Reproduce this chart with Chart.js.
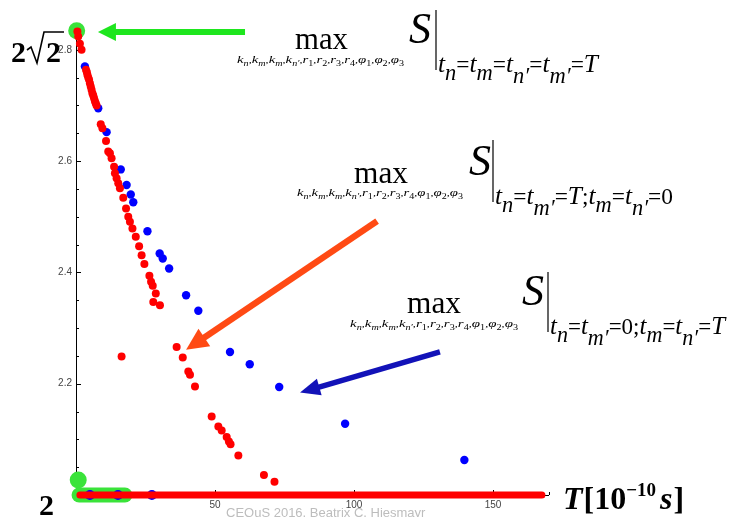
<!DOCTYPE html>
<html>
<head>
<meta charset="utf-8">
<script src="https://cdn.jsdelivr.net/npm/chart.js@4.4.1/dist/chart.umd.min.js"></script>
<style>
  body { margin: 0; background: #fff; }
  canvas { display: block; }
</style>
</head>
<body>
<canvas id="chart" width="738" height="517"></canvas>
<script>
// values, T in units of 1e-10 s
const redX = [0.5, 0.8, 1.4, 2.0, 3.6, 3.9, 4.1, 4.4, 4.7, 5.0, 5.3, 5.6, 5.9, 6.2, 6.5, 6.8, 7.1, 7.4,
  8.9, 9.5, 10.8, 11.6, 12.2, 12.8, 13.7, 14.0, 14.6, 15.2, 15.8, 16.4, 17.0, 18.0, 18.8, 19.4, 20.3,
  21.5, 22.7, 23.6, 24.6, 26.4, 27.0, 27.6, 28.7, 27.8, 30.2, 36.2, 38.4, 40.4, 41.0, 42.8, 48.8,
  51.2, 52.4, 54.2, 55.0, 55.6, 58.4, 67.6, 71.4];
const redY = [2.833, 2.824, 2.811, 2.800, 2.764, 2.760, 2.755, 2.750, 2.746, 2.740, 2.734, 2.728, 2.722, 2.718, 2.713, 2.708, 2.704, 2.700,
  2.666, 2.659, 2.636, 2.617, 2.614, 2.605, 2.590, 2.578, 2.569, 2.560, 2.551, 2.249, 2.534, 2.515, 2.500, 2.491, 2.479,
  2.464, 2.447, 2.431, 2.415, 2.394, 2.383, 2.376, 2.362, 2.347, 2.341, 2.266, 2.247, 2.222, 2.216, 2.195, 2.141,
  2.123, 2.116, 2.104, 2.096, 2.091, 2.071, 2.036, 2.024];

const blueX = [3.2, 8.0, 11.0, 16.1, 18.2, 19.7, 20.6, 25.7, 30.1, 31.2, 33.5, 39.6, 44.0, 55.4, 62.5, 73.1, 96.8, 139.7];
const blueY = [2.770, 2.695, 2.652, 2.585, 2.557, 2.540, 2.526, 2.474, 2.434, 2.425, 2.407, 2.359, 2.331, 2.257, 2.235, 2.194, 2.128, 2.063];

// the run of points lying on S = 2
const redFloorX = [1.4, 167.6];
const blueFloorX = [5.0, 15.1, 27.3];
const floorY = 2;

const xTickStep = 10;
const xLabelStep = 50;
const yTickStep = 0.05;
const yLabelStep = 0.2;

// annotation anchors in data units
const greenTop = { x: 0.25, y: 2.834 };
const greenBottom = { x: 0.8, y: 2.027 };
const greenBar = [1.1, 17.6];
const greenArrow = { from: [60.8, 2.832], to: [7.9, 2.832] };
const orangeArrow = { from: [108.3, 2.492], to: [39.6, 2.261] };
const blueArrow = { from: [130.9, 2.257], to: [80.6, 2.184] };

const pts = (xs, ys) => xs.map((x, i) => ({ x: x, y: Array.isArray(ys) ? ys[i] : ys }));

const SERIF = '"Liberation Serif", "DejaVu Serif", serif';

function arrow(ctx, x1, y1, x2, y2, color, width, headLen, headW) {
  const a = Math.atan2(y2 - y1, x2 - x1);
  const bx = x2 - Math.cos(a) * headLen, by = y2 - Math.sin(a) * headLen;
  ctx.save();
  ctx.strokeStyle = color;
  ctx.fillStyle = color;
  ctx.lineWidth = width;
  ctx.beginPath();
  ctx.moveTo(x1, y1);
  ctx.lineTo(bx + Math.cos(a) * 2, by + Math.sin(a) * 2);
  ctx.stroke();
  ctx.beginPath();
  ctx.moveTo(x2, y2);
  ctx.lineTo(bx + Math.sin(a) * headW / 2, by - Math.cos(a) * headW / 2);
  ctx.lineTo(bx - Math.sin(a) * headW / 2, by + Math.cos(a) * headW / 2);
  ctx.closePath();
  ctx.fill();
  ctx.restore();
}

// runs: [text, size, italic, dy]
function runs(ctx, x, y, list, targetW) {
  const fontOf = r => (r[2] ? 'italic ' : '') + r[1] + 'px ' + SERIF;
  let total = 0;
  list.forEach(r => { ctx.font = fontOf(r); total += ctx.measureText(r[0]).width; });
  const k = targetW ? targetW / total : 1;
  ctx.save();
  ctx.translate(x, y);
  ctx.scale(k, 1);
  let cx = 0;
  list.forEach(r => {
    ctx.font = fontOf(r);
    ctx.fillText(r[0], cx, r[3] || 0);
    cx += ctx.measureText(r[0]).width;
  });
  ctx.restore();
}

function underMax() {
  const L = [];
  const v = (a, b, last) => {
    L.push([a, 11, true, 0]);
    L.push([b, 7.5, !/[0-9]/.test(b), 3]);
    if (!last) L.push([',', 9, false, 0]);
  };
  v('k', 'n'); v('k', 'm'); v('k', 'm'); v('k', 'n′');
  v('r', '1'); v('r', '2'); v('r', '3'); v('r', '4');
  v('φ', '1'); v('φ', '2'); v('φ', '3', true);
  return L;
}

function tExpr(parts) {
  // parts: sequence of tokens like ['n'] (t with subscript) or '=' or 'T'
  const L = [];
  parts.forEach(p => {
    if (Array.isArray(p)) {
      L.push(['t', 26, true, 0]);
      L.push([p[0], 23, true, p[0].length > 1 ? 11 : 8]);
    } else if (p === 'T') {
      L.push(['T', 26, true, 0]);
    } else {
      L.push([p, 24, false, 0]);
    }
  });
  return L;
}

function formula(ctx, o) {
  ctx.fillStyle = '#000';
  runs(ctx, o.maxX, o.maxY, [['max', 32, false, 0]], o.maxW);
  runs(ctx, o.subX, o.subY, underMax(), o.subW);
  runs(ctx, o.sX, o.sY, [['S', 44, true, 0]]);
  ctx.save();
  ctx.strokeStyle = '#000';
  ctx.lineWidth = 1.2;
  ctx.beginPath();
  ctx.moveTo(o.barX, o.barTop);
  ctx.lineTo(o.barX, o.barBottom);
  ctx.stroke();
  ctx.restore();
  runs(ctx, o.barX + 2, o.tY, tExpr(o.t), o.tW);
}

const decorations = {
  id: 'decorations',
  beforeDatasetsDraw(chart) {
    const { ctx, scales: { x, y } } = chart;
    ctx.save();
    // inward tick marks
    ctx.strokeStyle = '#000';
    ctx.lineWidth = 1;
    y.ticks.forEach(t => {
      const py = Math.round(y.getPixelForValue(t.value)) + 0.5;
      const major = Math.abs(t.value / yLabelStep - Math.round(t.value / yLabelStep)) < 1e-6;
      ctx.beginPath();
      ctx.moveTo(x.left, py);
      ctx.lineTo(x.left + (major ? 5 : 3), py);
      ctx.stroke();
    });
    x.ticks.forEach(t => {
      const px = Math.round(x.getPixelForValue(t.value)) + 0.5;
      ctx.beginPath();
      ctx.moveTo(px, y.bottom);
      ctx.lineTo(px, y.bottom - (t.value % xLabelStep === 0 ? 5 : 3));
      ctx.stroke();
    });
    // green highlights
    ctx.fillStyle = '#3ae33a';
    ctx.strokeStyle = '#3ae33a';
    [greenTop, greenBottom].forEach(p => {
      ctx.beginPath();
      ctx.arc(x.getPixelForValue(p.x), y.getPixelForValue(p.y), 8.5, 0, Math.PI * 2);
      ctx.fill();
    });
    ctx.lineWidth = 15;
    ctx.lineCap = 'round';
    ctx.beginPath();
    ctx.moveTo(x.getPixelForValue(greenBar[0]), y.getPixelForValue(floorY));
    ctx.lineTo(x.getPixelForValue(greenBar[1]), y.getPixelForValue(floorY));
    ctx.stroke();
    ctx.restore();
  },
  afterDraw(chart) {
    const { ctx, scales: { x, y } } = chart;
    const P = a => [x.getPixelForValue(a[0]), y.getPixelForValue(a[1])];
    const g1 = P(greenArrow.from), g2 = P(greenArrow.to);
    arrow(ctx, g1[0], g1[1], g2[0], g2[1], '#1ee61e', 6, 18, 18);
    const o1 = P(orangeArrow.from), o2 = P(orangeArrow.to);
    arrow(ctx, o1[0], o1[1], o2[0], o2[1], '#ff4a14', 6.5, 22, 21);
    const b1 = P(blueArrow.from), b2 = P(blueArrow.to);
    arrow(ctx, b1[0], b1[1], b2[0], b2[1], '#1212b8', 5.5, 20, 17);

    ctx.save();
    ctx.fillStyle = '#000';
    ctx.textBaseline = 'alphabetic';

    // 2√2 at the top of the y axis
    ctx.font = 'bold 30px ' + SERIF;
    ctx.fillText('2', 11, 62);
    ctx.fillText('2', 46, 62);
    ctx.lineWidth = 1.6;
    ctx.strokeStyle = '#000';
    ctx.beginPath();
    ctx.moveTo(27, 50);
    ctx.lineTo(31, 47);
    ctx.lineTo(37, 63);
    ctx.lineTo(44, 32);
    ctx.lineTo(64, 32);
    ctx.stroke();
    // 2 at the bottom
    ctx.fillText('2', 39, 515);

    // axis title
    ctx.font = 'bold italic 32px ' + SERIF;
    ctx.fillText('T', 563, 509);
    let cx = 563 + ctx.measureText('T').width + 1;
    ctx.font = 'bold 32px ' + SERIF;
    ctx.fillText('[10', cx, 509);
    cx += ctx.measureText('[10').width;
    ctx.font = 'bold 19px ' + SERIF;
    ctx.fillText('−10', cx, 496);
    cx += ctx.measureText('−10').width + 4;
    ctx.font = 'bold italic 32px ' + SERIF;
    ctx.fillText('s', cx, 509);
    cx += ctx.measureText('s').width + 1;
    ctx.font = 'bold 32px ' + SERIF;
    ctx.fillText(']', cx, 509);

    // faint footer
    ctx.font = '13px "Liberation Sans", sans-serif';
    ctx.fillStyle = '#bdbdbd';
    ctx.fillText('CEQuS 2016, Beatrix C. Hiesmayr', 226, 517);

    formula(ctx, { maxX: 295, maxY: 49, maxW: 53, subX: 237, subY: 63, subW: 167,
      sX: 409, sY: 43, barX: 436, barTop: 10, barBottom: 70, tY: 72, tW: 160,
      t: [['n'], '=', ['m'], '=', ['n′'], '=', ['m′'], '=', 'T'] });
    formula(ctx, { maxX: 354, maxY: 183, maxW: 54, subX: 297, subY: 196, subW: 166,
      sX: 469, sY: 175, barX: 493, barTop: 140, barBottom: 202, tY: 204, tW: 178,
      t: [['n'], '=', ['m′'], '=', 'T', ';', ['m'], '=', ['n′'], '=', '0'] });
    formula(ctx, { maxX: 407, maxY: 313, maxW: 54, subX: 350, subY: 327, subW: 168,
      sX: 522, sY: 305, barX: 548, barTop: 272, barBottom: 332, tY: 334, tW: 175,
      t: [['n'], '=', ['m′'], '=', '0', ';', ['m'], '=', ['n′'], '=', 'T'] });
    ctx.restore();
  }
};

new Chart(document.getElementById('chart'), {
  type: 'scatter',
  data: {
    datasets: [
      {
        label: 'S = 2 (red)',
        data: pts(redFloorX, floorY),
        showLine: true,
        borderColor: '#ff0000',
        borderWidth: 7,
        borderCapStyle: 'round',
        pointRadius: 0,
        clip: false
      },
      {
        label: 'tn=tm\'=T, tm=tn\'=0',
        data: pts(redX, redY),
        backgroundColor: '#ff0000',
        borderWidth: 0,
        pointRadius: 4,
        clip: false
      },
      {
        label: 'S = 2 (blue)',
        data: pts(blueFloorX, floorY),
        backgroundColor: '#0000ff',
        borderWidth: 0,
        pointRadius: 5,
        clip: false
      },
      {
        label: 'tn=tm\'=0, tm=tn\'=T',
        data: pts(blueX, blueY),
        backgroundColor: '#0000ff',
        borderWidth: 0,
        pointRadius: 4.2,
        clip: false
      }
    ]
  },
  options: {
    responsive: false,
    animation: false,
    layout: { padding: { top: 27.5, right: 189.4, left: 0, bottom: 0 } },
    plugins: { legend: { display: false }, tooltip: { enabled: false } },
    scales: {
      x: {
        type: 'linear',
        min: 0,
        max: 170,
        afterFit: s => { s.height = 22; },
        grid: { display: false, drawTicks: false },
        border: { display: true, color: '#000', width: 1 },
        ticks: {
          stepSize: xTickStep,
          autoSkip: false,
          maxRotation: 0,
          padding: 4,
          color: '#444',
          font: { size: 10, family: '"Liberation Sans", sans-serif' },
          callback: v => (v > 0 && v % xLabelStep === 0 ? v : '')
        }
      },
      y: {
        min: 2,
        max: 2.84,
        afterFit: s => { s.width = 76; },
        grid: { display: false, drawTicks: false },
        border: { display: true, color: '#000', width: 1 },
        ticks: {
          stepSize: yTickStep,
          autoSkip: false,
          padding: 4,
          color: '#444',
          font: { size: 10, family: '"Liberation Sans", sans-serif' },
          callback: v => {
            const k = v / yLabelStep;
            return v > 2.01 && Math.abs(k - Math.round(k)) < 1e-6 ? v.toFixed(1) : '';
          }
        }
      }
    }
  },
  plugins: [decorations]
});
</script>
</body>
</html>
